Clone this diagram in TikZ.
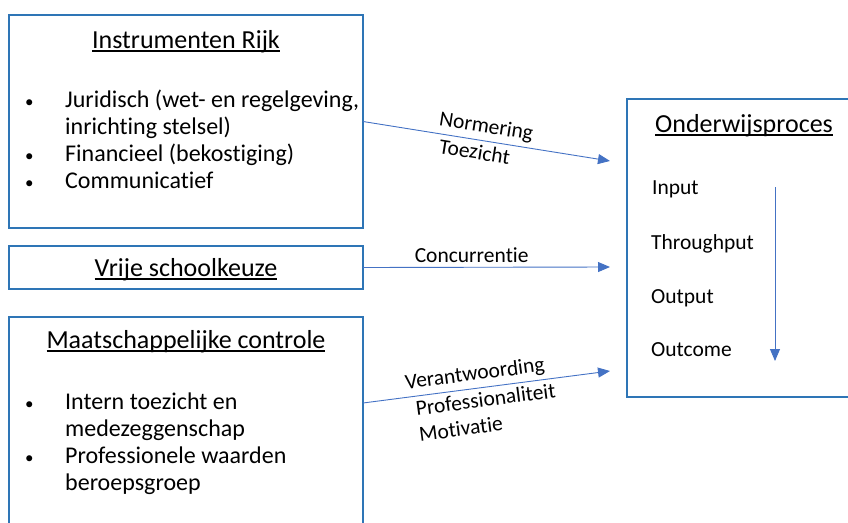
\documentclass[tikz,border=0pt]{standalone}
\usepackage{fontspec}
\setmainfont{Carlito}[Ligatures=NoCommon]
\usetikzlibrary{arrows.meta}
\definecolor{boxblue}{RGB}{46,117,182}
\definecolor{arrowblue}{RGB}{68,114,196}
\newcommand{\ulkop}[1]{\setbox0\hbox{#1}\rlap{\rule[-3.5pt]{\wd0}{1.1pt}}\box0}
\newcommand{\bol}{\hspace*{3pt}{\fontsize{17}{17}\selectfont\textbullet}}
\tikzset{
  blok/.style={draw=boxblue, line width=1.5pt, rectangle, anchor=north west,
    minimum width=354pt, inner sep=0pt, outer sep=0pt},
  kop/.style={anchor=base, font=\fontsize{26}{30}\selectfont},
  lijst/.style={anchor=north west, inner sep=0pt, align=left,
    font=\fontsize{24}{27}\selectfont},
  stap/.style={anchor=base west, inner sep=0pt, font=\fontsize{21.5}{26}\selectfont},
  pijl/.style={draw=arrowblue, line width=0.9pt, -{Triangle[length=12pt,width=10pt]}},
  pijltekst/.style={sloped, inner sep=4pt, align=left, font=\fontsize{21.5}{26}\selectfont}
}
\begin{document}
\begin{tikzpicture}[x=1pt, y=-1pt]
  \useasboundingbox (0,0) rectangle (848,522);

  % blokken links
  \node[blok, minimum height=213pt] (rijk) at (9,15) {};
  \node[kop] (rijkkop) at (186,48) {\ulkop{Instrumenten Rijk}};
  \node[lijst] (rijklijst) at (22,88) {\begin{tabular}{@{}p{43pt}@{}l@{}}
    \bol & Juridisch (wet- en regelgeving,\\
         & inrichting stelsel)\\
    \bol & Financieel (bekostiging)\\
    \bol & Communicatief
  \end{tabular}};

  \node[blok, minimum height=43pt] (keuze) at (9,246) {};
  \node[kop] (keuzekop) at (186,276) {\ulkop{Vrije schoolkeuze}};

  \node[blok, minimum height=213pt] (controle) at (9,317) {};
  \node[kop] (controlekop) at (186,348) {\ulkop{Maatschappelijke controle}};
  \node[lijst] (controlelijst) at (22,390) {\begin{tabular}{@{}p{43pt}@{}l@{}}
    \bol & Intern toezicht en\\
         & medezeggenschap\\
    \bol & Professionele waarden\\
         & beroepsgroep
  \end{tabular}};

  % onderwijsproces
  \node[blok, minimum width=235pt, minimum height=298pt] (proces) at (627,99) {};
  \node[kop] (proceskop) at (744,132) {\ulkop{Onderwijsproces}};
  \node[stap] (input) at (652,194) {Input};
  \node[stap] (through) at (651,249) {Throughput};
  \node[stap] (output) at (651,303) {Output};
  \node[stap] (outcome) at (651,356) {Outcome};
  \coordinate (stroomboven) at (775,187);
  \coordinate (stroomonder) at (775,361);
  \draw[pijl] (stroomboven) -- (stroomonder);

  % pijlen
  \coordinate (in1) at (610,161);
  \coordinate (in2) at (610,267);
  \coordinate (uit3) at (363,403);
  \coordinate (in3) at (610,371);
  \draw[pijl] (rijk.east) -- (in1)
    node[pijltekst, above, pos=0.49] {Normering}
    node[pijltekst, below, pos=0.46] {Toezicht};
  \draw[pijl] (keuze.east) -- (in2)
    node[pijltekst, above, pos=0.44] {Concurrentie};
  \draw[pijl] (uit3) -- (in3)
    node[pijltekst, above, pos=0.46] {Verantwoording}
    node[pijltekst, below, pos=0.49] {Professionaliteit\\Motivatie};
\end{tikzpicture}
\end{document}
